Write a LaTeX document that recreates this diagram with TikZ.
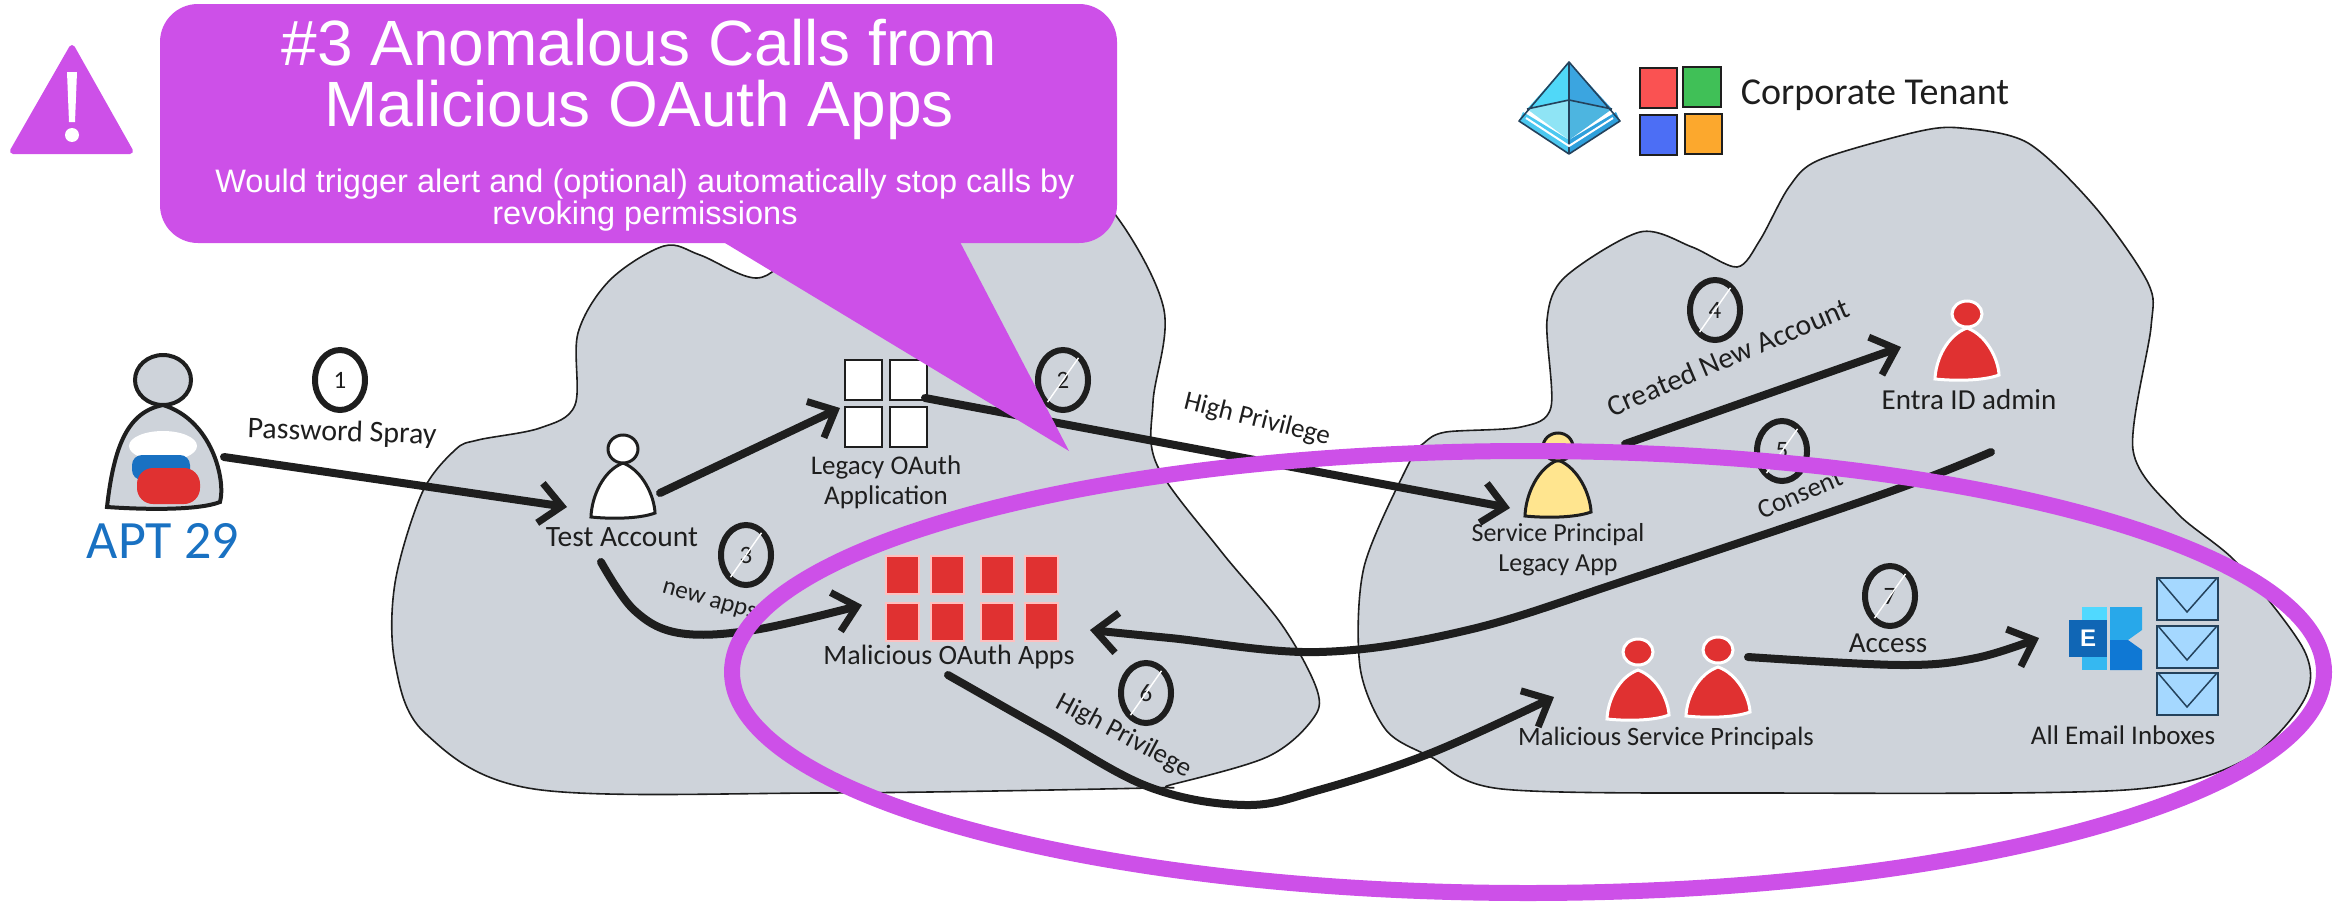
\documentclass[tikz,border=0pt]{standalone}
\usepackage{fontspec}
\usetikzlibrary{arrows.meta,shapes.geometric}
\setmainfont{Liberation Sans}
\newfontfamily\hand{Carlito}
\definecolor{callout}{HTML}{CD50E8}
\definecolor{cloud}{HTML}{CED3DA}
\definecolor{redfill}{HTML}{E03131}
\definecolor{aptblue}{HTML}{1971C2}
\definecolor{ink}{HTML}{1E1E1E}
\definecolor{mailfill}{HTML}{A5D8FF}
\definecolor{mailline}{HTML}{24425C}
\tikzset{
  cloudshape/.style={fill=cloud,draw=ink,line width=1.6pt},
  flow/.style={draw=ink,line width=8pt,line cap=round,-{Straight Barb[length=22pt,width=40pt,line width=7pt]}},
  numcircle/.style={ellipse,draw=ink,line width=6pt,minimum width=50pt,minimum height=60pt,inner sep=0pt,outer sep=0pt,font=\hand\fontsize{25}{25}\selectfont,text=ink},
  hatch/.style={draw=white,line width=1.4pt,shorten >=1pt,shorten <=1pt},
  lbl/.style={font=\hand\fontsize{27}{30}\selectfont,text=ink,align=center,inner sep=0pt},
  tile/.style={draw=ink,line width=1.5pt},
  redtile/.style={fill=redfill,draw=red!25!white,line width=2pt},
  mailbox/.style={fill=mailfill,draw=mailline,line width=2.5pt},
  bigtxt/.style={text=white,align=center,inner sep=0pt}
}
\newcommand{\personlw}{3pt}
% cx, head y, neck y, bottom y, half width, head rx, head ry, fill, stroke
\newcommand{\drawperson}[9]{%
  \path[fill=#8,draw=#9,line width=\personlw] (#1,#3)
    .. controls ({#1-0.62*#5},{#3+0.14*(#4-#3)}) and ({#1-0.98*#5},{#3+0.62*(#4-#3)}) .. ({#1-#5},#4)
    .. controls ({#1-0.4*#5},{#4+2}) and ({#1+0.5*#5},{#4+2}) .. ({#1+#5},{#4-4})
    .. controls ({#1+0.98*#5},{#3+0.62*(#4-#3)}) and ({#1+0.62*#5},{#3+0.14*(#4-#3)}) .. cycle;
  \path[fill=#8,draw=#9,line width=\personlw] (#1,#2) ellipse [x radius=#6,y radius=#7];
}
\begin{document}
\begin{tikzpicture}[x=1pt,y=-1pt]
\useasboundingbox (0,0) rectangle (2333,902);
% clouds
\path[cloudshape] plot[smooth cycle,tension=0.55] coordinates {
  (664,246) (700,255) (757,278) (800,250) (900,190) (1060,170) (1117,217) (1164,310) (1153,402) (1157,465) (1220,550) (1282,625) (1317,690) (1312,720) (1267,757) (1170,785) (1149,788) (821,793) (534,789) (425,733) (395,663) (395,583) (422,493) (455,450) (478,440) (540,428) (575,405) (578,333) (610,280)};
\path[cloudshape] plot[smooth cycle,tension=0.5] coordinates {
  (1961,128) (2028,143) (2095,207) (2148,283) (2151,327) (2133,450) (2177,513) (2237,563) (2304,650) (2304,700) (2245,760) (2125,790) (1767,793) (1502,789) (1431,757) (1386,730) (1360,667) (1364,567) (1409,463) (1424,443) (1446,432) (1521,427) (1551,407) (1547,320) (1565,277) (1640,232) (1692,247) (1737,267) (1760,240) (1789,187) (1819,160) (1916,132)};
% Entra logo
\definecolor{eA}{HTML}{50D8F8}\definecolor{eB}{HTML}{3BA5E0}\definecolor{eC}{HTML}{8FE4F5}\definecolor{eD}{HTML}{4DB5E0}\definecolor{eE}{HTML}{4CC8F0}\definecolor{eF}{HTML}{2EA0DC}
\fill[eA] (1569,62) -- (1527,109) -- (1569,100) -- cycle;
\fill[eB] (1569,62) -- (1612,109) -- (1569,100) -- cycle;
\fill[eC] (1527,109) -- (1569,100) -- (1569,140) -- cycle;
\fill[eD] (1612,109) -- (1569,100) -- (1569,140) -- cycle;
\fill[eE] (1519,121) -- (1569,154) -- (1569,140) -- (1523,112) -- cycle;
\fill[eF] (1620,121) -- (1569,154) -- (1569,140) -- (1616,112) -- cycle;
\draw[draw=mailline,line width=1.6pt,line join=round] (1569,62) -- (1620,121) -- (1569,154) -- (1519,121) -- cycle (1569,62) -- (1569,154) (1527,109) -- (1569,100) -- (1612,109);
\draw[draw=white,line width=2pt] (1526,118) -- (1569,146) -- (1613,118);
% tenant tiles
\definecolor{tR}{HTML}{FA5252}\definecolor{tG}{HTML}{40C057}\definecolor{tB}{HTML}{4C6EF5}\definecolor{tO}{HTML}{FCA82D}
\path[tile,fill=tR] (1640,68) rectangle (1677,108);
\path[tile,fill=tG] (1683,67) rectangle (1721,107);
\path[tile,fill=tB] (1640,115) rectangle (1677,155);
\path[tile,fill=tO] (1685,114) rectangle (1722,154);
\node[lbl,font=\hand\fontsize{38}{40}\selectfont] (tenant) at (1875,95) {Corporate Tenant};
% APT 29
\path[fill=cloud,draw=ink,line width=4pt] (163,405) .. controls (128,412) and (114,445) .. (107,507) .. controls (150,510) and (200,510) .. (220,502) .. controls (226,480) and (212,420) .. (163,405) -- cycle;
\path[fill=cloud,draw=ink,line width=4pt] (163,380) ellipse [x radius=28,y radius=25];
\fill[white] (163,446) ellipse [x radius=34,y radius=15];
\fill[aptblue,rounded corners=10pt] (132,455) rectangle (190,480);
\fill[redfill,rounded corners=16pt] (137,468) rectangle (200,504);
\node[lbl,font=\hand\fontsize{54}{56}\selectfont,text=aptblue] (apt) at (163,541) {APT 29};
% persons
\definecolor{spyellow}{HTML}{FFE58F}
\drawperson{623}{449}{463}{517}{32}{15}{14}{white}{ink}
\drawperson{1558}{447}{460}{516}{33}{15}{14}{spyellow}{ink}
\drawperson{1967}{314}{328}{379}{32}{15}{13}{redfill}{white}
\drawperson{1638}{652}{670}{719}{31}{15}{13}{redfill}{white}
\drawperson{1718}{650}{667}{716}{32}{15}{13}{redfill}{white}
% legacy tiles
\path[tile,fill=white] (845,360) rectangle (882,400);
\path[tile,fill=white] (890,360) rectangle (927,400);
\path[tile,fill=white] (845,407) rectangle (882,447);
\path[tile,fill=white] (890,407) rectangle (927,447);
% malicious tiles
\foreach \cx in {886,931,981,1025}{
  \foreach \cy in {556,603}{
    \path[redtile] (\cx,\cy) rectangle ++(33,38);
}}
% exchange
\definecolor{xA}{HTML}{50D9FF}\definecolor{xB}{HTML}{28A8EA}\definecolor{xC}{HTML}{0F78D4}\definecolor{xD}{HTML}{35B8F1}\definecolor{xE}{HTML}{1066B5}
\fill[xA] (2082,607) rectangle (2107,640);
\fill[xB] (2110,607) -- (2142,607) -- (2142,630) -- (2128,640) -- (2110,640) -- cycle;
\fill[xC] (2110,640) -- (2128,640) -- (2142,650) -- (2142,670) -- (2110,670) -- cycle;
\fill[xD] (2082,650) rectangle (2107,670);
\node[fill=xE,text=white,minimum width=38pt,minimum height=37pt,inner sep=0pt,font=\bfseries\fontsize{24}{24}\selectfont] (exch) at (2088,638) {E};
\foreach \my in {578,626,673}{
  \path[mailbox] (2157,\my) rectangle ++(61,42);
  \draw[draw=mailline,line width=1.5pt] (2158,\my) -- (2187,{\my+34}) -- (2217,\my);
}
% labels
\node[lbl,rotate=-2,font=\hand\fontsize{30}{30}\selectfont] (lpw) at (342,433) {Password Spray};
\node[lbl] (llg) at (886,482) {Legacy OAuth\\Application};
\node[lbl,font=\hand\fontsize{29.5}{30}\selectfont] (ltest) at (622,537) {Test Account};
\node[lbl,rotate=-16,font=\hand\fontsize{25}{25}\selectfont] (lnew) at (709,602) {new apps};
\node[lbl,font=\hand\fontsize{28}{30}\selectfont] (lmal) at (949,657) {Malicious OAuth Apps};
\node[lbl,rotate=-14] (lhi) at (1257,420) {High Privilege};
\node[lbl,rotate=-28] (lhi2) at (1124,736) {High Privilege};
\node[lbl,rotate=23,font=\hand\fontsize{29.5}{30}\selectfont] (lcr) at (1728,357) {Created New Account};
\node[lbl,rotate=23] (lcon) at (1800,494) {Consent};
\node[lbl,font=\hand\fontsize{29}{30}\selectfont] (lad) at (1969,400) {Entra ID admin};
\node[lbl,font=\hand\fontsize{26}{30}\selectfont] (lsp) at (1558,550) {Service Principal\\Legacy App};
\node[lbl,font=\hand\fontsize{29}{30}\selectfont] (lac) at (1888,643) {Access};
\node[lbl,font=\hand\fontsize{26.5}{30}\selectfont] (lms) at (1666,738) {Malicious Service Principals};
\node[lbl] (lin) at (2123,735) {All Email Inboxes};
% number circles
\node[numcircle] (n1) at (340,380) {1};
\node[numcircle] (n2) at (1063,380) {2};
\node[numcircle] (n3) at (746,555) {3};
\node[numcircle] (n4) at (1715,310) {4};
\node[numcircle] (n5) at (1782,451) {5};
\node[numcircle] (n6) at (1146,693) {6};
\node[numcircle] (n7) at (1890,596) {7};
\foreach \n in {n2,n3,n4,n5,n6,n7}{
  \draw[hatch] (\n.-125) -- (\n.55);
}
% connector ends
\coordinate (apts) at (224,457);
\coordinate (teste) at (567,507);
\coordinate (tests) at (660,493);
\coordinate (lege) at (840,408);
\coordinate (legs) at (925,398);
\coordinate (spe) at (1510,508);
\coordinate (sps) at (1625,444);
\coordinate (adme) at (1901,347);
\coordinate (adms) at (1991,452);
\coordinate (male) at (1090,630);
\coordinate (tests2) at (601,562);
\coordinate (male2) at (862,605);
\coordinate (mals) at (948,675);
\coordinate (mspe) at (1554,697);
\coordinate (msps) at (1748,657);
\coordinate (inbe) at (2039,638);
% connectors
\draw[flow] (apts) -- (teste);
\draw[flow] (tests) -- (lege);
\draw[flow] (legs) -- (spe);
\draw[flow] (sps) -- (adme);
\draw[flow] plot[smooth,tension=0.6] coordinates {(adms) (1886,493) (1633,578) (1468,630) (1319,652) (1170,638) (male)};
\draw[flow] plot[smooth,tension=0.6] coordinates {(tests2) (634,610) (679,633) (754,630) (male2)};
\draw[flow] plot[smooth,tension=0.6] coordinates {(mals) (1045,730) (1149,787) (1245,805) (1319,790) (1431,753) (mspe)};
\draw[flow] plot[smooth,tension=0.6] coordinates {(msps) (1901,665) (1976,658) (inbe)};
% highlight ellipse
\draw[draw=callout,line width=16pt] (1528,672) ellipse [x radius=796,y radius=221];
% callout
\fill[callout,rounded corners=38pt] (160,4) rectangle (1117,243);
\fill[callout] (720,240) -- (1069,451) -- (959,240) -- cycle;
\node[bigtxt,font=\fontsize{64}{61}\selectfont] (title) at (639,79) {\#3 Anomalous Calls from\\Malicious OAuth Apps};
\node[bigtxt,font=\fontsize{32.5}{29.5}\selectfont] (sub) at (645,200) {Would trigger alert and (optional) automatically stop calls by\\revoking permissions};
% warning
\path[fill=callout,draw=callout,line width=6pt,line join=round] (72,48) -- (130,151) -- (13,151) -- cycle;
\fill[white] (72,72) -- (77,72) -- (75,122) -- (69,122) -- (67,72) -- cycle;
\fill[white] (72,135) ellipse [x radius=7,y radius=7];
\end{tikzpicture}
\end{document}
